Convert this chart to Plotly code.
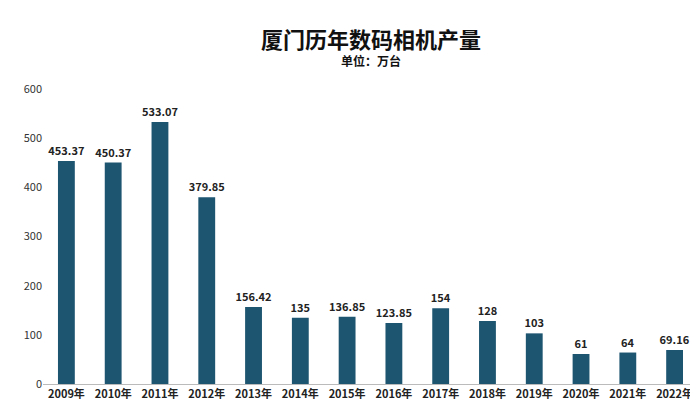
import plotly.graph_objects as go

years = ["2009年","2010年","2011年","2012年","2013年","2014年","2015年","2016年","2017年","2018年","2019年","2020年","2021年","2022年"]
values = [453.37,450.37,533.07,379.85,156.42,135,136.85,123.85,154,128,103,61,64,69.16]
labels = ["453.37","450.37","533.07","379.85","156.42","135","136.85","123.85","154","128","103","61","64","69.16"]

fig = go.Figure(go.Bar(
    x=years, y=values, text=["<b>%s</b>" % t for t in labels], textposition="outside",
    constraintext="none",
    textfont=dict(size=11, color="#222", family="Noto Sans CJK SC"),
    marker=dict(color="#1d5570", line=dict(width=0)),
    width=0.36, cliponaxis=False,
))
fig.update_layout(
    width=698, height=420, paper_bgcolor="white", plot_bgcolor="white",
    margin=dict(l=35, r=8, t=81, b=36),
    font=dict(family="Noto Sans CJK SC", color="#333"),
    showlegend=False,
    annotations=[
        dict(text="<b>厦门历年数码相机产量</b>", x=0.5, y=28, xref="paper", yref="paper",
             showarrow=False, font=dict(size=22, color="#111")),
        dict(text="<b>单位：万台</b>", x=0.5, y=0, xref="paper", yref="paper",
             showarrow=False, font=dict(size=12, color="#111")),
    ],
)
# position annotations in pixels via yshift relative to top of plot
fig.layout.annotations[0].update(y=1, yanchor="bottom", yshift=33)
fig.layout.annotations[1].update(y=1, yanchor="bottom", yshift=18)
fig.update_layout(height=420, margin=dict(b=36 + 8))
fig.update_yaxes(range=[0, 600], dtick=100, showgrid=False, zeroline=False,
                 tickfont=dict(size=11, color="#333"), showline=False)
fig.update_xaxes(showline=True, linecolor="#bbb", linewidth=1,
                 tickfont=dict(size=11, color="#222"), tickprefix="<b>", ticksuffix="</b>")
fig.write_html("out.html")
